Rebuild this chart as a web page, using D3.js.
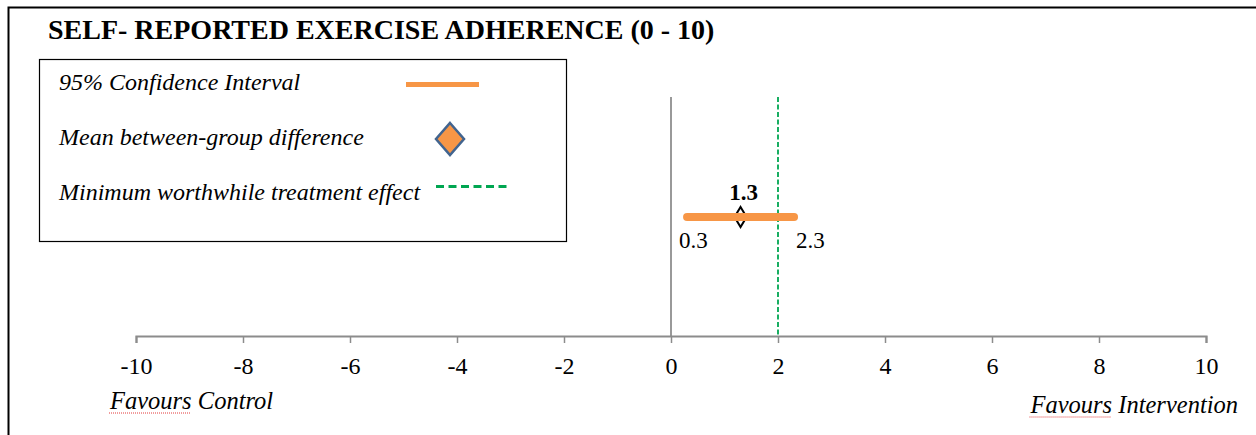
<!DOCTYPE html>
<html>
<head>
<meta charset="utf-8">
<script src="https://cdn.jsdelivr.net/npm/d3@7"></script>
<style>
  body { margin: 0; background: #fff; }
  text { font-family: "Liberation Serif", "Times New Roman", serif; }
</style>
</head>
<body>
<div id="chart"></div>
<script>
let w = 1256; let h = 435;

// data
let ticks = [-10, -8, -6, -4, -2, 0, 2, 4, 6, 8, 10];
let meanDiff = [1.3];
let ciLow = [0.3];
let ciHigh = [2.3];
let mwte = [2];
let legendLabels = ["95% Confidence Interval", "Mean between-group difference", "Minimum worthwhile treatment effect"];
let sideLabels = ["Favours Control", "Favours Intervention"];

let svg = d3.select("#chart").append("svg").attr("width", w).attr("height", h);

let xScale = d3.scaleLinear().domain([-10, 10]).range([136, 1206]);
let axisY = 336;
let topY = 97;

// outer frame (top + left only)
svg.append("path")
  .attr("d", "M8.5,435 L8.5,7.5 L1256,7.5")
  .attr("fill", "none").attr("stroke", "#000").attr("stroke-width", 2);

// title
svg.append("text")
  .attr("x", 48).attr("y", 39)
  .attr("font-size", "28px").attr("font-weight", "bold")
  .text("SELF- REPORTED EXERCISE ADHERENCE (0 - 10)");

// legend box
let lg = svg.append("g");
lg.append("rect")
  .attr("x", 39.5).attr("y", 59.5).attr("width", 527).attr("height", 182)
  .attr("fill", "#fff").attr("stroke", "#000").attr("stroke-width", 1.2);

let legY = [90, 145, 200];
lg.selectAll("text.leg").data(legendLabels).enter().append("text")
  .attr("class", "leg")
  .attr("x", 59).attr("y", (d, i) => legY[i])
  .attr("font-size", "24px").attr("font-style", "italic")
  .text(d => d);

lg.append("line")
  .attr("x1", 406).attr("x2", 479).attr("y1", 84.5).attr("y2", 84.5)
  .attr("stroke", "#f79646").attr("stroke-width", 5);
lg.append("path")
  .attr("d", "M0,-16 L14,0 L0,16 L-14,0 Z")
  .attr("transform", "translate(450,139)")
  .attr("fill", "#f79646").attr("stroke", "#41648f").attr("stroke-width", 2.5);
lg.append("line")
  .attr("x1", 436).attr("x2", 509).attr("y1", 186.5).attr("y2", 186.5)
  .attr("stroke", "#00a651").attr("stroke-width", 3).attr("stroke-dasharray", "8,4.5");

// zero line
svg.append("line")
  .attr("x1", xScale(0)).attr("x2", xScale(0)).attr("y1", topY).attr("y2", axisY)
  .attr("stroke", "#999").attr("stroke-width", 2);

// minimum worthwhile treatment effect
svg.selectAll("line.mwte").data(mwte).enter().append("line")
  .attr("class", "mwte")
  .attr("x1", d => xScale(d)).attr("x2", d => xScale(d))
  .attr("y1", topY).attr("y2", axisY)
  .attr("stroke", "#00a651").attr("stroke-width", 1.8).attr("stroke-dasharray", "5,2.5");

// x axis
let axis = svg.append("g")
  .attr("transform", "translate(0," + axisY + ")")
  .call(d3.axisBottom(xScale).tickValues(ticks).tickSize(7).tickPadding(14).tickFormat(d => String(d)));
axis.select(".domain").attr("stroke", "#8c8c8c").attr("stroke-width", 2.2);
axis.selectAll(".tick line").attr("stroke", "#8c8c8c").attr("stroke-width", 1.5);
axis.selectAll(".tick text")
  .attr("font-family", "Liberation Serif").attr("font-size", "24px").attr("fill", "#000");

// mean diamond and CI bar
let ciY = 217;
svg.selectAll("path.mean").data(meanDiff).enter().append("path")
  .attr("class", "mean")
  .attr("d", "M0,-10 L6,0 L0,10 L-6,0 Z")
  .attr("transform", d => "translate(" + xScale(d) + "," + ciY + ")")
  .attr("fill", "#fff").attr("stroke", "#000").attr("stroke-width", 2);

svg.selectAll("line.ci").data(ciLow).enter().append("line")
  .attr("class", "ci")
  .attr("x1", d => xScale(d)).attr("x2", (d, i) => xScale(ciHigh[i]))
  .attr("y1", ciY).attr("y2", ciY)
  .attr("stroke", "#f79646").attr("stroke-width", 8).attr("stroke-linecap", "round");

svg.selectAll("text.meanlab").data(meanDiff).enter().append("text")
  .attr("class", "meanlab")
  .attr("x", d => xScale(d) + 3).attr("y", 200)
  .attr("text-anchor", "middle").attr("font-size", "23px").attr("font-weight", "bold")
  .text(d => d.toFixed(1));
svg.selectAll("text.lowlab").data(ciLow).enter().append("text")
  .attr("class", "lowlab")
  .attr("x", d => xScale(d) - 8).attr("y", 248)
  .attr("font-size", "23px")
  .text(d => d.toFixed(1));
svg.selectAll("text.highlab").data(ciHigh).enter().append("text")
  .attr("class", "highlab")
  .attr("x", d => xScale(d) + 2).attr("y", 248)
  .attr("font-size", "23px")
  .text(d => d.toFixed(1));

// favours labels
let fav = svg.selectAll("text.fav").data(sideLabels).enter().append("text")
  .attr("class", "fav")
  .attr("x", (d, i) => i == 0 ? 110 : 1238)
  .attr("y", (d, i) => i == 0 ? 409 : 413)
  .attr("text-anchor", (d, i) => i == 0 ? "start" : "end")
  .attr("font-size", "24.5px").attr("font-style", "italic")
  .text(d => d);

// spell-check squiggle under "Favours"
fav.each(function(d, i) {
  let bb = this.getBBox();
  let fw = this.getSubStringLength(0, 7);
  let x0 = bb.x;
  let y0 = (i == 0 ? 409 : 413) + 4;
  svg.append("line")
    .attr("x1", x0).attr("x2", x0 + fw).attr("y1", y0).attr("y2", y0)
    .attr("stroke", "#e23b3b").attr("stroke-width", 1).attr("stroke-dasharray", "1,1");
});
</script>
</body>
</html>
